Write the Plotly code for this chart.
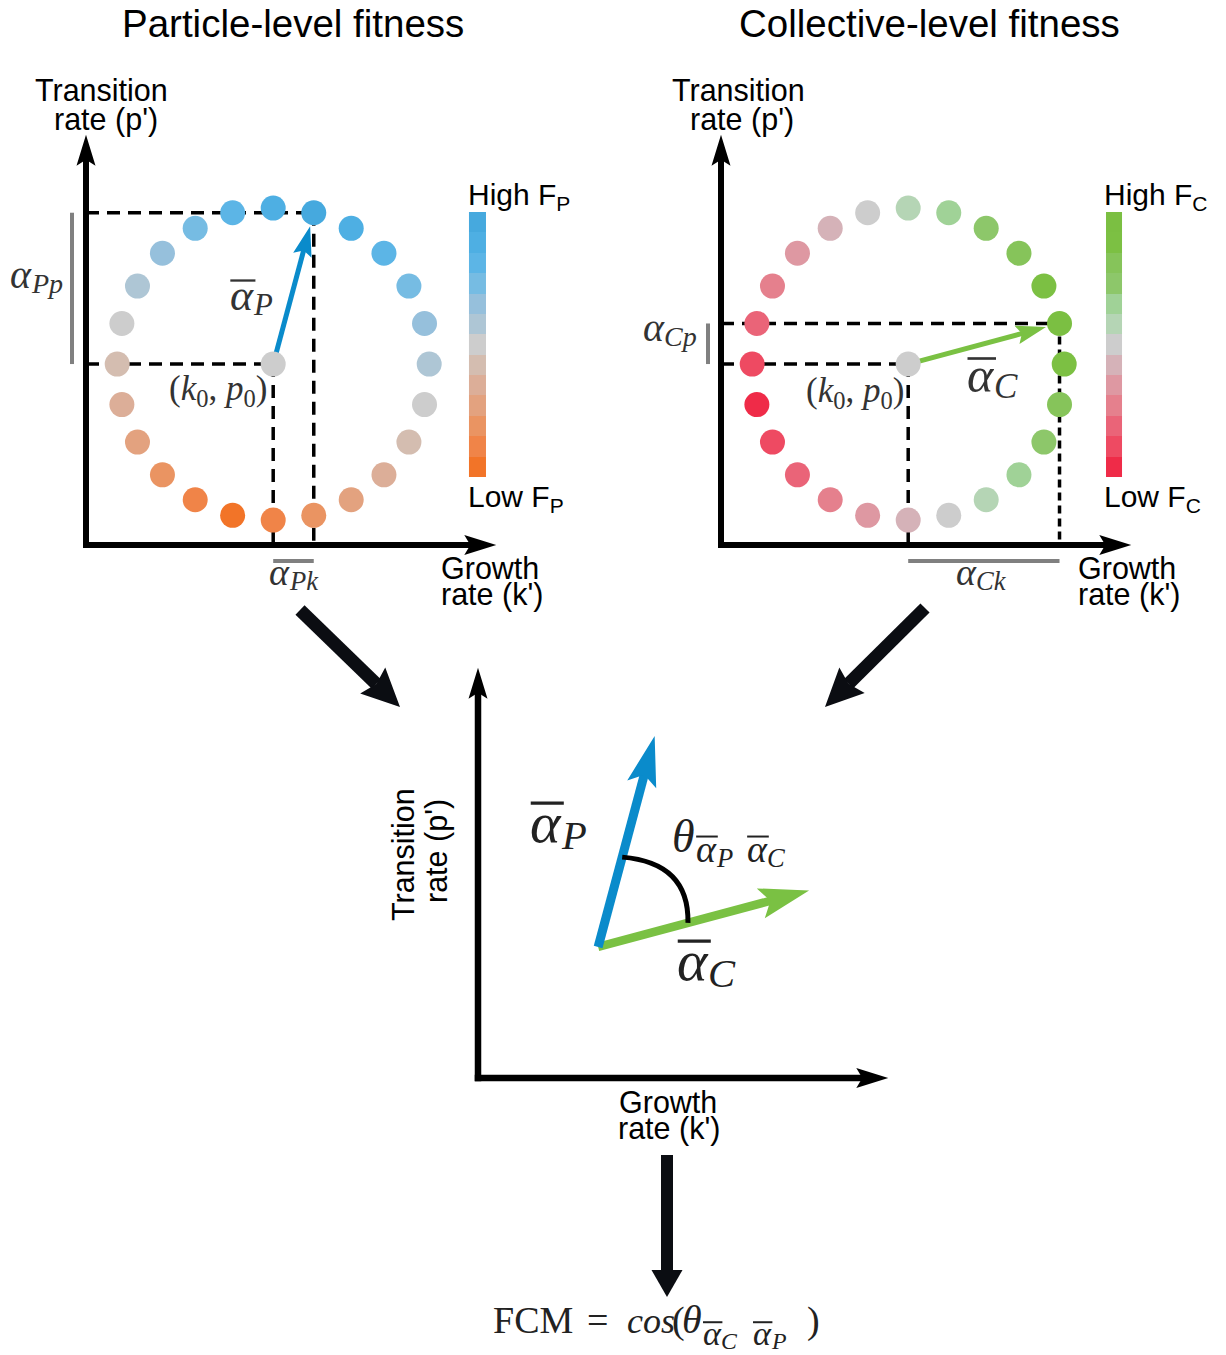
import math
import numpy as np
import plotly.graph_objects as go

W, H = 1226, 1355
U = 156.0  # pixels per model unit (equal on both axes)

# ---------------- data ----------------
panel_titles = ["Particle-level fitness", "Collective-level fitness"]
k0, p0 = 1.20, 1.16            # resident phenotype (k0, p0)
# 24 mutant phenotypes around the resident (offsets, clockwise from the top)
dk = [0.00, 0.26, 0.50, 0.71, 0.87, 0.97, 1.00, 0.97, 0.87, 0.71, 0.50, 0.26,
      0.00, -0.26, -0.50, -0.71, -0.87, -0.97, -1.00, -0.97, -0.87, -0.71, -0.50, -0.26]
dp = [1.00, 0.97, 0.87, 0.71, 0.50, 0.26, 0.00, -0.26, -0.50, -0.71, -0.87, -0.97,
      -1.00, -0.97, -0.87, -0.71, -0.50, -0.26, 0.00, 0.26, 0.50, 0.71, 0.87, 0.97]
# fitness rank of each mutant (resident = 0)
fitness_P = [5, 6, 5, 4, 3, 2, 1, 0, -1, -2, -3, -4, -5, -6, -5, -4, -3, -2, -1, 0, 1, 2, 3, 4]
fitness_C = [1, 2, 3, 4, 5, 6, 5, 4, 3, 2, 1, 0, -1, -2, -3, -4, -5, -6, -5, -4, -3, -2, -1, 0]
fitness_resident = 0
fitness_levels = [-6, -5, -4, -3, -2, -1, 0, 1, 2, 3, 4, 5, 6]
# colour of each fitness level, low -> high
colors_P = ["#F27428", "#F08448", "#EA9462", "#E3A27F", "#DCAE98", "#D4BDB0", "#CDCDCD",
            "#AEC6D5", "#96C0DC", "#76BCE3", "#5CB5E6", "#4EAFE3", "#46A9DE"]
colors_C = ["#EF2B48", "#EE4A62", "#EA6478", "#E5808D", "#DE98A2", "#D5B2B8", "#CDCDCD",
            "#B5D5B5", "#A0D297", "#8DC76A", "#86C45A", "#7CC043", "#7BBF42"]
vec_start_3 = (0.77, 0.84)     # start of the two vectors in the bottom panel
vec_len_3 = 1.40               # drawn length of the vectors in the bottom panel

BLUE = "#0A8BCB"
GREEN = "#7AC143"
GRAY = "#808080"
MATH = "#333333"
DARK = "#222222"
SANS = "Liberation Sans, Arial, sans-serif"
SERIF = "Liberation Serif, Times New Roman, serif"

# panel origins on the page (pixels) and axis length (units)
ORIG = {1: (86, 545), 2: (721, 545), 3: (478, 1078)}
AX_LEN = 2.63


def px2paper(x, y):
    return x / W, 1 - y / H


def head_pts(x0, y0, x1, y1, L, Wd, notch):
    dx, dy = x1 - x0, y1 - y0
    n = math.hypot(dx, dy)
    ux, uy = dx / n, dy / n
    nx_, ny_ = -uy, ux
    bx, by = x1 - L * ux, y1 - L * uy
    left = (bx + Wd / 2 * nx_, by + Wd / 2 * ny_)
    right = (bx - Wd / 2 * nx_, by - Wd / 2 * ny_)
    nt = (x1 - (L - notch) * ux, y1 - (L - notch) * uy)
    return [(x1, y1), left, nt, right], nt


def path_of(pts):
    return "M " + " L ".join(f"{a:.5f},{b:.5f}" for a, b in pts) + " Z"


fig = go.Figure()
shapes = []
annotations = []


def data_arrow(xr, yr, x0, y0, x1, y1, lw, L, Wd, notch, color, layer="above"):
    """arrow in data units of a panel (head lengths given in pixels)."""
    pts, nt = head_pts(x0, y0, x1, y1, L / U, Wd / U, notch / U)
    ux, uy = (x1 - x0), (y1 - y0)
    n = math.hypot(ux, uy)
    ex, ey = nt[0] + 1.5 / U * ux / n, nt[1] + 1.5 / U * uy / n
    shapes.append(dict(type="line", xref=xr, yref=yr, x0=x0, y0=y0, x1=ex, y1=ey,
                       line=dict(color=color, width=lw), layer=layer))
    shapes.append(dict(type="path", xref=xr, yref=yr, path=path_of(pts),
                       fillcolor=color, line=dict(width=0), layer=layer))


def page_arrow(x0, y0, x1, y1, lw, L, Wd, notch, color):
    pts, nt = head_pts(x0, y0, x1, y1, L, Wd, notch)
    a = px2paper(x0, y0)
    b = px2paper(*nt)
    shapes.append(dict(type="line", xref="paper", yref="paper", x0=a[0], y0=a[1], x1=b[0], y1=b[1],
                       line=dict(color=color, width=lw)))
    shapes.append(dict(type="path", xref="paper", yref="paper",
                       path=path_of([px2paper(*p) for p in pts]),
                       fillcolor=color, line=dict(width=0)))


def txt(x, y, s, size, family=SANS, color="black", xanchor="center", yanchor="middle", angle=0):
    px, py = px2paper(x, y)
    annotations.append(dict(x=px, y=py, xref="paper", yref="paper", text=s, showarrow=False,
                            font=dict(size=size, family=family, color=color),
                            xanchor=xanchor, yanchor=yanchor, textangle=angle, borderpad=0))


def txt_base(left, base, s, size, color=MATH, family=SERIF):
    """serif text placed by its left edge and baseline (pixels)."""
    txt(left, base - 0.34 * size, s, size, family, color, xanchor="left")


def overline(x0, x1, y, w=2.5, color=MATH):
    a = px2paper(x0, y)
    b = px2paper(x1, y)
    shapes.append(dict(type="line", xref="paper", yref="paper", x0=a[0], y0=a[1], x1=b[0], y1=b[1],
                       line=dict(color=color, width=w)))


def sym(left, base, s, sub, ov=True, color=MATH, wmain=0.53, drop=0.12):
    """alpha symbol with italic subscript and optional bar."""
    txt_base(left, base, "<i>α</i>", s, color)
    txt_base(left + wmain * s, base + drop * s, f"<i>{sub}</i>", 0.7 * s, color)
    if ov:
        overline(left + 0.03 * s, left + 0.6 * s, base - 0.67 * s, max(2.0, s / 19), color)


def axis_names(i):
    return ("x" if i == 1 else f"x{i}"), ("y" if i == 1 else f"y{i}")


def draw_axes(i, lw=6):
    xr, yr = axis_names(i)
    data_arrow(xr, yr, 0, -lw / 2 / U, 0, AX_LEN, lw, 31, 19, 6, "black")
    data_arrow(xr, yr, -lw / 2 / U, 0, AX_LEN, 0, lw, 32, 20, 6, "black")


# ---------------- top panels ----------------
panels = [
    dict(i=1, F=fitness_P, colors=colors_P, vec=BLUE, cbx=(2.455, 2.564), bar_x=-14 / U,
         v2dash="13px,8px"),
    dict(i=2, F=fitness_C, colors=colors_C, vec=GREEN, cbx=(2.468, 2.571), bar_x=-13 / U,
         v2dash="8px,5px"),
]

for pn in panels:
    i = pn["i"]
    xr, yr = axis_names(i)
    cs = [[j / 12, c] for j, c in enumerate(pn["colors"])]
    ks = [k0 + d for d in dk]
    ps = [p0 + d for d in dp]
    best = int(np.argmax(pn["F"]))
    kb, pb = ks[best], ps[best]

    # dashed guide lines
    for (a, b, c, d, dash) in [(0, pb, kb, pb, "13px,8px"), (0, p0, k0, p0, "13px,8px"),
                               (k0, p0, k0, 0, "13px,8px"), (kb, pb, kb, 0, pn["v2dash"])]:
        shapes.append(dict(type="line", xref=xr, yref=yr, x0=a, y0=b, x1=c, y1=d,
                           line=dict(color="black", width=3.5, dash=dash), layer="below"))
    # grey projection bars
    shapes.append(dict(type="line", xref=xr, yref=yr, x0=pn["bar_x"], y0=p0, x1=pn["bar_x"], y1=pb,
                       line=dict(color=GRAY, width=4)))
    shapes.append(dict(type="line", xref=xr, yref=yr, x0=k0, y0=-16 / U, x1=kb, y1=-16 / U,
                       line=dict(color=GRAY, width=4)))

    # selection-gradient vector
    n = math.hypot(kb - k0, pb - p0)
    sh = (n - 14 / U) / n
    data_arrow(xr, yr, k0, p0, k0 + (kb - k0) * sh, p0 + (pb - p0) * sh, 5, 30, 19, 5, pn["vec"],
               layer="below")

    # mutants + resident
    fig.add_trace(go.Scatter(
        x=ks + [k0], y=ps + [p0], mode="markers", xaxis=xr, yaxis=yr,
        marker=dict(size=25, color=pn["F"] + [fitness_resident], colorscale=cs,
                    cmin=-6, cmax=6, line=dict(width=0)),
        hoverinfo="skip", showlegend=False))

    # colour bar
    cb_lo, cb_hi = (545 - 477) / U, (545 - 212) / U
    edges = list(np.linspace(cb_lo, cb_hi, len(fitness_levels) + 1))
    fig.add_trace(go.Heatmap(
        x=list(pn["cbx"]), y=edges, z=[[v] for v in fitness_levels], colorscale=cs,
        zmin=-6, zmax=6, showscale=False, xaxis=xr, yaxis=yr, hoverinfo="skip"))

    draw_axes(i)

# ---------------- bottom panel ----------------
xr3, yr3 = axis_names(3)
bP = int(np.argmax(fitness_P))
bC = int(np.argmax(fitness_C))
uP = (dk[bP] / math.hypot(dk[bP], dp[bP]), dp[bP] / math.hypot(dk[bP], dp[bP]))
uC = (dk[bC] / math.hypot(dk[bC], dp[bC]), dp[bC] / math.hypot(dk[bC], dp[bC]))
sx, sy = vec_start_3
data_arrow(xr3, yr3, sx, sy, sx + vec_len_3 * uC[0], sy + vec_len_3 * uC[1], 8.5, 50, 31, 10, GREEN)
data_arrow(xr3, yr3, sx, sy, sx + vec_len_3 * uP[0], sy + vec_len_3 * uP[1], 9, 50, 30, 10, BLUE)
r = 93 / U
a0 = (sx + r * uP[0], sy + r * uP[1])
a2 = (sx + r * uC[0], sy + r * uC[1])
ctl = (sx + 0.80 * r * (uP[0] + uC[0]), sy + 0.74 * r * (uP[1] + uC[1]))
shapes.append(dict(type="path", xref=xr3, yref=yr3,
                   path=f"M {a0[0]:.5f},{a0[1]:.5f} Q {ctl[0]:.5f},{ctl[1]:.5f} {a2[0]:.5f},{a2[1]:.5f}",
                   line=dict(color="black", width=5)))
draw_axes(3, lw=6.5)

# ---------------- flow arrows ----------------
FLOW = "#0B0D12"
page_arrow(300, 610, 400, 707, 13, 38, 36, 5, FLOW)
page_arrow(925, 608, 825, 707, 13, 38, 36, 5, FLOW)
page_arrow(667, 1155, 667, 1297, 12, 27, 31, 0, FLOW)

# ---------------- text ----------------
txt(293, 24, panel_titles[0], 38.5)
txt(929, 24, panel_titles[1], 38.5)
for cx, cx2 in [(101, 106), (738, 742)]:
    txt(cx, 90, "Transition", 30.5)
    txt(cx2, 119, "rate (p')", 30.5)
for lx in (440, 1077):
    txt(lx, 568, "Growth", 30.5, xanchor="left")
    txt(lx, 594, "rate (k')", 30.5, xanchor="left")
txt(668, 1102, "Growth", 30.5)
txt(669, 1128, "rate (k')", 30.5)
txt(403, 855, "Transition", 30.5, angle=-90)
txt(436, 851, "rate (p')", 30.5, angle=-90)

txt(467, 196, "High F<sub>P</sub>", 30, xanchor="left")
txt(467, 498, "Low F<sub>P</sub>", 30, xanchor="left")
txt(1103, 196, "High F<sub>C</sub>", 30, xanchor="left")
txt(1103, 498, "Low F<sub>C</sub>", 30, xanchor="left")

# math labels, top panels
sym(229, 310, 44, "P")
sym(966, 392, 50, "C")
txt(218, 391, "(<i>k</i><sub>0</sub>, <i>p</i><sub>0</sub>)", 35, SERIF, MATH)
txt(855, 392, "(<i>k</i><sub>0</sub>, <i>p</i><sub>0</sub>)", 35, SERIF, MATH)
sym(9, 288, 40, "Pp", ov=False)
sym(642, 341, 40, "Cp", ov=False)
sym(268, 585, 38, "Pk", ov=False)
sym(955, 585, 38, "Ck", ov=False)

# math labels, bottom panel
sym(529, 842, 58, "P", color=DARK)
sym(676, 980, 58, "C", color=DARK)
txt_base(671, 852, "<i>θ</i>", 46, DARK)
sym(695, 862, 38, "P", color=DARK)
sym(746, 862, 38, "C", color=DARK)

txt_base(492, 1333, "FCM", 38, DARK)
txt_base(586, 1333, "=", 38, DARK)
txt_base(626, 1333, "<i>cos</i>", 36, DARK)
txt_base(671, 1333, "(", 38, DARK)
txt_base(681, 1333, "<i>θ</i>", 40, DARK)
sym(702, 1345, 34, "C", color=DARK)
sym(752, 1345, 34, "P", color=DARK)
txt_base(806, 1333, ")", 38, DARK)

# ---------------- layout ----------------
layout_axes = {}
for i in (1, 2, 3):
    ox, oy = ORIG[i]
    xk = "xaxis" if i == 1 else f"xaxis{i}"
    yk = "yaxis" if i == 1 else f"yaxis{i}"
    xa = dict(range=[-ox / U, (W - ox) / U], domain=[0, 1], visible=False, fixedrange=True)
    ya = dict(range=[-(H - oy) / U, oy / U], domain=[0, 1], visible=False, fixedrange=True)
    if i > 1:
        xa["overlaying"] = "x"
        ya["overlaying"] = "y"
        xa["anchor"] = f"y{i}"
        ya["anchor"] = f"x{i}"
    layout_axes[xk] = xa
    layout_axes[yk] = ya

fig.update_layout(
    width=W, height=H, autosize=False,
    margin=dict(l=0, r=0, t=0, b=0, pad=0),
    paper_bgcolor="white", plot_bgcolor="rgba(0,0,0,0)",
    showlegend=False, shapes=shapes, annotations=annotations,
    **layout_axes,
)

fig.write_html("out.html", config={"displayModeBar": False})
